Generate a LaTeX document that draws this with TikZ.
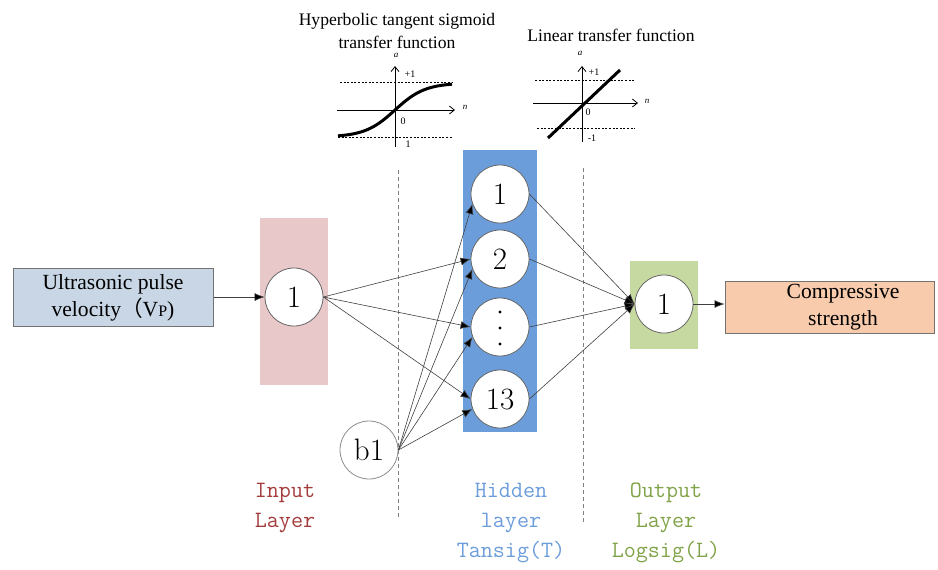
\documentclass[tikz,border=0pt]{standalone}
\usepackage{fontspec}
\newfontfamily\tnr{Liberation Serif}
\newfontfamily\cjk{Noto Sans CJK SC}
\usetikzlibrary{arrows.meta}
\definecolor{boxblue}{RGB}{200,214,229}
\definecolor{inpink}{RGB}{232,200,200}
\definecolor{hidblue}{RGB}{108,157,219}
\definecolor{outgreen}{RGB}{197,217,160}
\definecolor{boxorange}{RGB}{248,203,173}
\definecolor{labred}{RGB}{165,60,60}
\definecolor{labgreen}{RGB}{128,163,72}
\tikzset{
  neuron/.style={circle,draw=black!60,line width=0.4pt,fill=white,minimum size=29pt,inner sep=0pt,font=\fontsize{15.5}{16}\selectfont},
  conn/.style={draw=black!75,line width=0.3pt,-{Latex[length=5pt,width=4pt,fill=black]}},
  iobox/.style={rectangle,draw=black!55,line width=0.5pt,inner sep=0pt},
  boxtext/.style={align=center,font=\tnr\fontsize{10.8}{13.5}\selectfont},
  laylabel/.style={align=center,font=\ttfamily\fontsize{11.7}{15}\selectfont},
  divider/.style={draw=black!50,line width=0.35pt,dash pattern=on 2pt off 1.5pt},
  axis/.style={draw=black,line width=0.4pt,-{Straight Barb[length=2.5pt,width=4pt]}},
  guide/.style={draw=black,line width=0.4pt,dash pattern=on 1pt off 0.8pt},
  curve/.style={draw=black,line width=1.5pt},
  ticklab/.style={font=\tnr\fontsize{5}{6}\selectfont,inner sep=0.5pt},
  axlab/.style={font=\tnr\itshape\fontsize{4.5}{5}\selectfont,inner sep=0.5pt},
  title/.style={align=center,font=\tnr\fontsize{8.8}{11.5}\selectfont}
}
\begin{document}
\begin{tikzpicture}
\useasboundingbox (0,0) rectangle (469pt,-284.5pt);
\begin{scope}[x=0.5pt,y=-0.5pt]
% layer backgrounds
\fill[inpink] (260,218) rectangle (328,385);
\fill[hidblue] (463,150) rectangle (537,432);
\fill[outgreen] (630,261) rectangle (698,349);
% dividers
\draw[divider] (398,170) -- (398,520);
\draw[divider] (583,168) -- (583,522);
% boxes
\node[iobox,fill=boxblue,minimum width=100pt,minimum height=29pt] (vp) at (113,297) {};
\node[boxtext] (vptxt) at (113,298) {Ultrasonic pulse\\velocity{\cjk（}V{\fontsize{8}{8}\selectfont P})};
\node[iobox,fill=boxorange,minimum width=104.5pt,minimum height=26pt] (cs) at (829.5,307) {};
\node[boxtext] (cstxt) at (843,307) {Compressive\\strength};
% neurons
\node[neuron] (in) at (294,297) {1};
\node[neuron] (h1) at (500,194) {1};
\node[neuron] (h2) at (500,259) {2};
\node[neuron] (hd) at (500,327) {};
\node[neuron] (h13) at (500,399) {13};
\node[neuron,draw=black!45] (b1) at (369,450) {b1};
\node[neuron] (out) at (664,304) {1};
\fill (500,312) circle (1.6) (500,328) circle (1.6) (500,344) circle (1.6);
% connections
\draw[conn] (vp.east) -- (in.west);
\foreach \h in {h2,hd,h13} \draw[conn] (in.east) -- (\h.west);
\foreach \h in {h1,h2,hd,h13} \draw[conn] (b1.east) -- (\h.200);
\foreach \h in {h1,h2,hd,h13} \draw[conn] (\h.east) -- (out.west);
\draw[conn] (out.east) -- (cs.west |- out.east);
% layer labels
\node[laylabel,text=labred] (linp) at (285,508) {Input\\Layer};
\node[laylabel,text=hidblue] (lhid) at (511,523) {Hidden\\layer\\Tansig(T)};
\node[laylabel,text=labgreen] (lout) at (666,523) {Output\\Layer\\Logsig(L)};
% titles
\node[title] (t1) at (397,31) {Hyperbolic tangent sigmoid\\transfer function};
\node[title] (t2) at (611,35) {Linear transfer function};
% tanh graph
\draw[guide] (340,82) -- (452,82);
\draw[guide] (338,137) -- (452,137);
\draw[axis] (337,110) -- (455,110);
\draw[axis] (395,147) -- (395,66);
\draw[curve,domain=-57:57,samples=50] plot ({395+\x},{110-27*tanh(\x/30)});
\node[axlab] (ta) at (396,55) {a};
\node[axlab] (tn) at (465,107) {n};
\node[ticklab] (tp) at (410,74) {+1};
\node[ticklab] (t0) at (403,121) {0};
\node[ticklab] (tm) at (408,144) {1};
% linear graph
\draw[guide] (535,80) -- (635,80);
\draw[guide] (537,128) -- (635,128);
\draw[axis] (533,103) -- (638,103);
\draw[axis] (582,142) -- (582,66);
\draw[curve] (548,138) -- (620,70);
\node[axlab] (la) at (580,53) {a};
\node[axlab] (ln) at (647,101) {n};
\node[ticklab] (lp) at (594,72) {+1};
\node[ticklab] (l0) at (588,112) {0};
\node[ticklab] (lm) at (592,138) {-1};
\end{scope}
\end{tikzpicture}
\end{document}
